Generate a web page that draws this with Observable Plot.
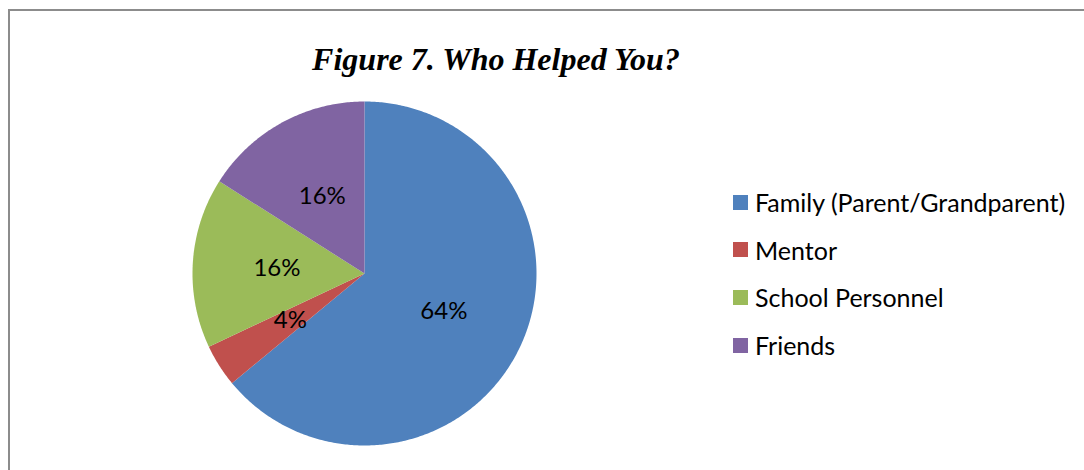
<!DOCTYPE html>
<html>
<head>
<meta charset="utf-8">
<script src="https://cdn.jsdelivr.net/npm/d3@7"></script>
<script src="https://cdn.jsdelivr.net/npm/@observablehq/plot@0.6"></script>
<style>
  html, body { margin: 0; padding: 0; background: #fff; }
  #wrap { position: relative; width: 1084px; height: 470px; overflow: hidden; }
  #frame { position: absolute; left: 8px; top: 9px; width: 1200px; height: 600px;
           border-top: 2px solid #8c8c8c; border-left: 2px solid #8c8c8c; }
  #title { position: absolute; left: 0; width: 992px; top: 41px; text-align: center;
           font-family: "Liberation Serif", "Times New Roman", serif; font-weight: bold;
           font-style: italic; font-size: 32px; line-height: 37px; color: #000; }
  #chart { position: absolute; left: 184px; top: 93px; }
  #legend { position: absolute; left: 733px; top: 0; font-family: Lato, "Open Sans", sans-serif;
            font-size: 25px; color: #000; }
  .row { position: absolute; left: 0; display: flex; align-items: center; white-space: nowrap; height: 30px; }
  .sw { width: 15px; height: 15px; margin-right: 7px; flex: none; }
</style>
</head>
<body>
<div id="wrap">
  <div id="frame"></div>
  <div id="title">Figure 7. Who Helped You?</div>
  <div id="chart"></div>
  <div id="legend"></div>
</div>
<script>
const categories = ["Family (Parent/Grandparent)", "Mentor", "School Personnel", "Friends"];
const shares = [64, 4, 16, 16];
const labels = ["64%", "4%", "16%", "16%"];
const colors = ["#4F81BD", "#C0504D", "#9BBB59", "#8064A2"];

const data = categories.map((c, i) => ({category: c, value: shares[i], label: labels[i]}));
const arcs = d3.pie().sort(null).value(d => d.value)(data);

// polygon outlines of each slice (angle measured clockwise from top)
const slicePts = [];
arcs.forEach(a => {
  const n = Math.max(2, Math.ceil((a.endAngle - a.startAngle) / 0.01));
  slicePts.push({category: a.data.category, x: 0, y: 0});
  for (let k = 0; k <= n; k++) {
    const t = a.startAngle + (a.endAngle - a.startAngle) * k / n;
    slicePts.push({category: a.data.category, x: Math.sin(t), y: Math.cos(t)});
  }
  slicePts.push({category: a.data.category, x: 0, y: 0});
});
const labelPts = arcs.map(a => {
  const m = (a.startAngle + a.endAngle) / 2;
  return {label: a.data.label, x: 0.51 * Math.sin(m), y: 0.51 * Math.cos(m)};
});

const plot = Plot.plot({
  width: 360, height: 360, margin: 8,
  x: {domain: [-1, 1], axis: null},
  y: {domain: [-1, 1], axis: null},
  color: {domain: categories, range: colors},
  style: {background: "transparent"},
  marks: [
    Plot.line(slicePts, {x: "x", y: "y", z: "category", fill: "category", stroke: "none", curve: "linear"}),
    Plot.text(labelPts, {x: "x", y: "y", text: "label", fontSize: 24, fill: "#000",
      fontFamily: "Lato, 'Open Sans', sans-serif"})
  ]
});
document.getElementById("chart").appendChild(plot);

const legend = document.getElementById("legend");
categories.forEach((c, i) => {
  const row = document.createElement("div");
  row.className = "row";
  row.style.top = (187 + i * 47.7) + "px";
  const sw = document.createElement("div");
  sw.className = "sw";
  sw.style.background = colors[i];
  const tx = document.createElement("span");
  tx.textContent = c;
  row.appendChild(sw); row.appendChild(tx);
  legend.appendChild(row);
});
</script>
</body>
</html>
